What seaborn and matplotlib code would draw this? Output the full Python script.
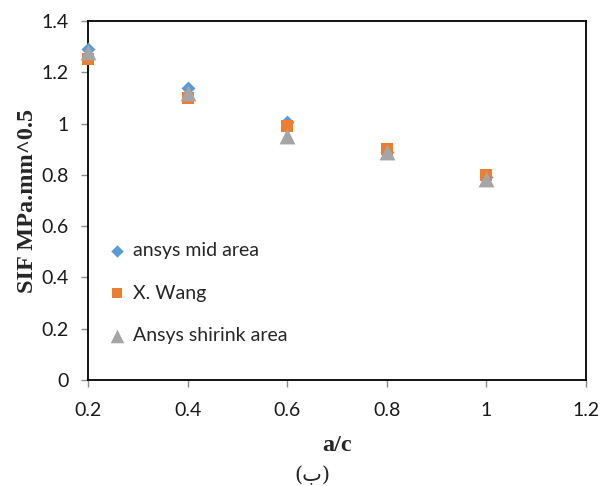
import matplotlib
matplotlib.use("Agg")
import matplotlib.pyplot as plt
import seaborn as sns
import pandas as pd

a_c = [0.2, 0.4, 0.6, 0.8, 1.0]
ansys_mid = [1.29, 1.14, 1.005, 0.89, 0.79]
x_wang = [1.25, 1.10, 0.99, 0.90, 0.80]
ansys_shrink = [1.28, 1.12, 0.95, 0.888, 0.785]
series_names = ["ansys mid area", "X. Wang", "Ansys shirink area"]
x_ticks = [0.2, 0.4, 0.6, 0.8, 1.0, 1.2]
x_tick_labels = ["0.2", "0.4", "0.6", "0.8", "1", "1.2"]
y_ticks = [0, 0.2, 0.4, 0.6, 0.8, 1.0, 1.2, 1.4]
y_tick_labels = ["0", "0.2", "0.4", "0.6", "0.8", "1", "1.2", "1.4"]

df = pd.DataFrame({
    "a/c": a_c * 3,
    "SIF": ansys_mid + x_wang + ansys_shrink,
    "series": [series_names[0]] * 5 + [series_names[1]] * 5 + [series_names[2]] * 5,
})

sns.set_style("white")
plt.rcParams["font.family"] = ["Lato", "DejaVu Sans"]

fig = plt.figure(figsize=(6.10, 4.86), dpi=100)
ax = fig.add_axes([88 / 610, 1 - 380 / 486, (586 - 88) / 610, (380 - 21) / 486])

palette = {series_names[0]: "#5B9BD5", series_names[1]: "#ED7D31", series_names[2]: "#A5A5A5"}
markers = {series_names[0]: "D", series_names[1]: "s", series_names[2]: "^"}
sizes = {series_names[0]: 50, series_names[1]: 70, series_names[2]: 130}

for name in series_names:
    sub = df[df["series"] == name]
    sns.scatterplot(data=sub, x="a/c", y="SIF", ax=ax, color=palette[name],
                    marker=markers[name], s=sizes[name], linewidth=0, label=name,
                    zorder=3, clip_on=False)

ax.set_xlim(0.2, 1.2)
ax.set_ylim(0, 1.4)
ax.set_xticks(x_ticks)
ax.set_xticklabels(x_tick_labels)
ax.set_yticks(y_ticks)
ax.set_yticklabels(y_tick_labels)
ax.tick_params(axis="both", which="both", direction="out", length=5, width=1,
               color="#8C8C8C", labelsize=14, labelcolor="#1a1a1a",
               bottom=True, left=True)
ax.tick_params(axis="x", pad=11)
ax.tick_params(axis="y", pad=9)
for sp in ax.spines.values():
    sp.set_visible(True)
    sp.set_color("black")
    sp.set_linewidth(1.3)

ax.set_xlabel("a/c", fontsize=17.5, fontweight="bold", family=["Liberation Serif"], labelpad=11)
ax.set_ylabel("SIF MPa.mm^0.5", fontsize=17.5, fontweight="bold", family=["Liberation Serif"], labelpad=2)

leg = ax.legend(loc="center left", bbox_to_anchor=(0.02, (380 - 293) / 359), frameon=False,
                fontsize=14, handletextpad=0.2, labelspacing=1.33, borderaxespad=0.0,
                handlelength=1.2)
for h, s in zip(leg.legend_handles, [40, 55, 95]):
    h.set_sizes([s])

fig.text(312 / 610, 1 - 475 / 486, "(ب)", ha="center", va="center", fontsize=15,
         family=["DejaVu Serif", "DejaVu Sans"])

fig.savefig("out.png", dpi=100, facecolor="white")
